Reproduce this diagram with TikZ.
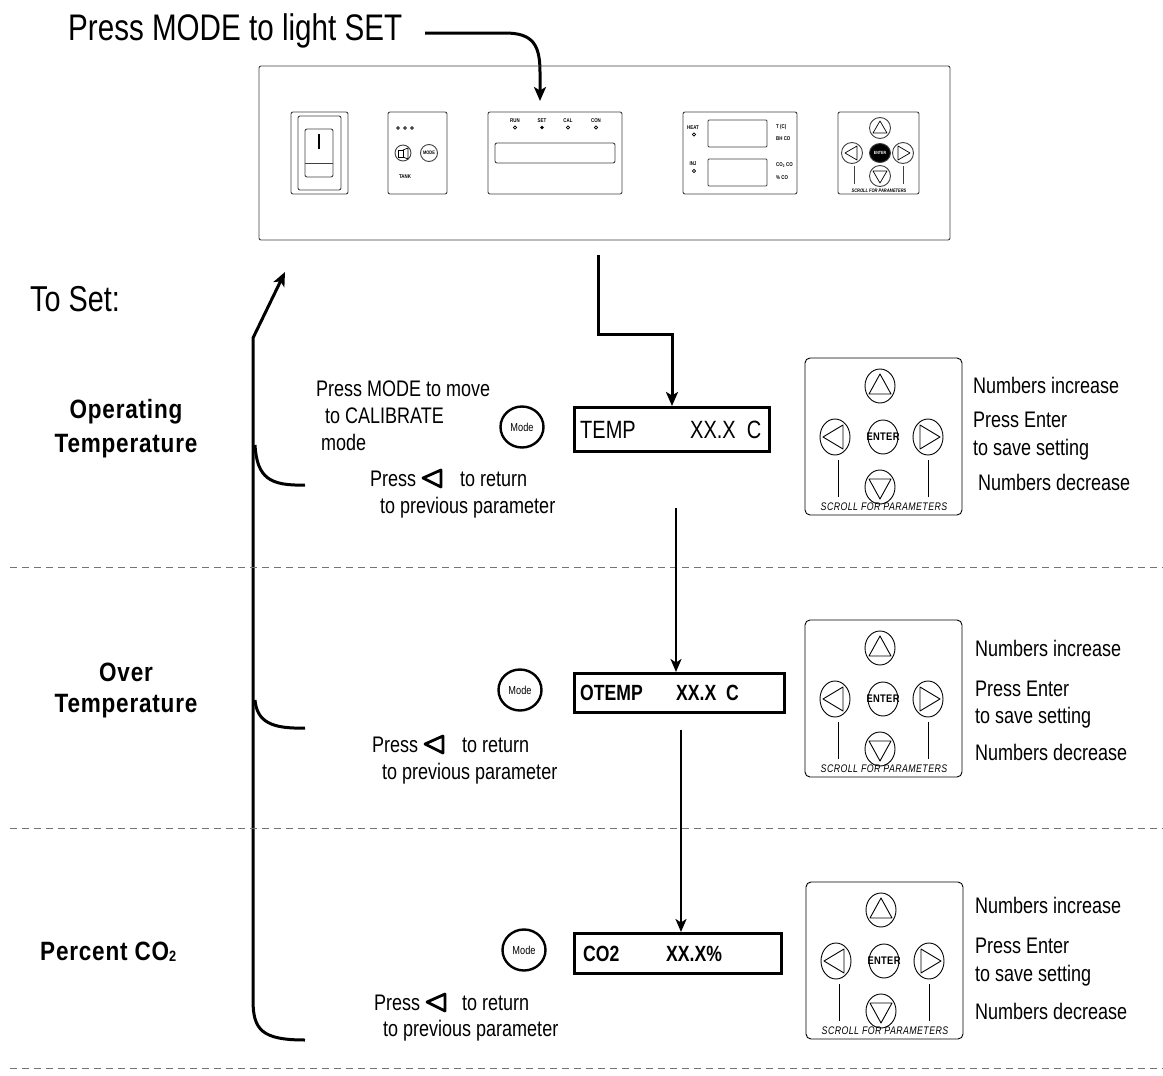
\documentclass[tikz,border=0pt]{standalone}
\usepackage{fontspec}
\setmainfont{Liberation Sans}[FakeStretch=0.8]
\newfontfamily\headfont{Liberation Sans}[FakeStretch=0.85, LetterSpace=3]
\newfontfamily\keyfont{Liberation Sans}[FakeStretch=0.8, LetterSpace=4]
\usetikzlibrary{arrows.meta,shapes.geometric}
\tikzset{
  body/.style={font=\fontsize{22.5}{25}\selectfont, inner sep=0pt, anchor=base west},
  head/.style={font=\headfont\bfseries\fontsize{26.5}{28}\selectfont, inner sep=0pt},
  thinline/.style={draw=black!75, line width=0.9},
  bigarrow/.style={line width=3, -{Stealth[length=14,width=12,inset=3.5]}},
  midarrow/.style={line width=2.2, -{Stealth[length=13,width=11,inset=3.5]}},
  dashsep/.style={draw=black!55, line width=0.9, dash pattern=on 7 off 5},
  dispbox/.style={draw, line width=3, inner sep=0pt, anchor=north west},
  modebtn/.style={draw, line width=2.4, ellipse, minimum width=43, minimum height=41, inner sep=0pt, font=\fontsize{11.5}{12}\selectfont},
  tiny/.style={font=\bfseries\fontsize{5.5}{6}\selectfont, inner sep=0pt},
  keyc/.style={line width=0.9},
  keypad/.pic={
    \draw[keyc, rounded corners=5] (0,0) rectangle (157,157);
    \draw[keyc] (75,28) ellipse [x radius=15, y radius=17];
    \draw[keyc, line join=round] (75,16) -- (64,36) -- (86,36) -- cycle;
    \draw[keyc] (30,79) ellipse [x radius=15, y radius=18];
    \draw[keyc, line join=round] (18,79) -- (38,67) -- (38,91) -- cycle;
    \draw[keyc] (78,79) ellipse [x radius=15, y radius=17];
    \node[font=\headfont\bfseries\fontsize{11}{11}\selectfont, inner sep=0pt] at (78,79) {ENTER};
    \draw[keyc] (123,79) ellipse [x radius=15, y radius=18];
    \draw[keyc, line join=round] (135,79) -- (115,67) -- (115,91) -- cycle;
    \draw[keyc] (75,129) ellipse [x radius=15, y radius=17];
    \draw[keyc, line join=round] (75,141) -- (64,121) -- (86,121) -- cycle;
    \draw[keyc] (33,102) -- (33,139);
    \draw[keyc] (123,102) -- (123,139);
    \node[font=\keyfont\itshape\fontsize{11}{11}\selectfont, inner sep=0pt] at (79,149) {SCROLL FOR PARAMETERS};
  },
  lefttri/.style={line width=2.8, line join=round, fill=white}
}
\begin{document}
\begin{tikzpicture}[x=1pt,y=-1pt]
\useasboundingbox (0,0) rectangle (1163,1076);

% ---------- title ----------
\node[body, font=\fontsize{37}{40}\selectfont] (title) at (68,40) {Press MODE to light SET};
\coordinate (tstart) at (425,33);
\coordinate (ttip) at (540,101);
\draw[bigarrow] (tstart) -- (505,33) .. controls (533,33) and (540,45) .. (540,72) -- (ttip);

% ---------- control panel ----------
\draw[thinline, rounded corners=2] (259,66) rectangle (950,240);
\coordinate (panelout) at (598,255);
% switch
\draw[thinline, rounded corners=2] (291,112) rectangle (348,194);
\draw[thinline, rounded corners=2] (298,116) rectangle (341,190);
\draw[thinline, rounded corners=2] (305,129) rectangle (333,177);
\draw[thinline] (305,163) -- (333,163);
\draw[line width=1.3] (319,134) -- (319,149);
% tank box
\draw[thinline, rounded corners=2] (388,112) rectangle (447,194);
\foreach \xx in {398,405,412} \draw[line width=0.6] (\xx,128) circle [radius=1.4];
\draw[thinline] (403,153) circle [radius=8];
\draw[line width=0.7] (398,150) rectangle (403,157);
\draw[line width=0.7] (403,150) -- (408,148) -- (408,159) -- (403,157);
\draw[thinline] (429,153) circle [radius=8.5];
\node[tiny, font=\bfseries\fontsize{5}{6}\selectfont] at (429,153) {MODE};
\node[tiny] at (405,177) {TANK};
% mode display
\draw[thinline, rounded corners=2] (488,112) rectangle (622,194);
\node[tiny] at (515,121) {RUN};
\node[tiny] at (542,121) {SET};
\node[tiny] at (568,121) {CAL};
\node[tiny] at (596,121) {CON};
\draw[line width=0.6] (515,127.5) circle [radius=1.6];
\fill (542,127.5) circle [radius=1.8];
\draw[line width=0.6] (568,127.5) circle [radius=1.6];
\draw[line width=0.6] (596,127.5) circle [radius=1.6];
\draw[thinline, rounded corners=2] (495,143) rectangle (615,163);
% readout box
\draw[thinline, rounded corners=2] (683,112) rectangle (797,194);
\draw[thinline, rounded corners=1] (708,120) rectangle (767,147);
\draw[thinline, rounded corners=1] (708,159) rectangle (767,186);
\node[tiny] at (693,128) {HEAT};
\draw[line width=0.6] (694,134.5) circle [radius=1.6];
\node[tiny] at (693,164) {INJ};
\draw[line width=0.6] (694,171) circle [radius=1.6];
\node[tiny, anchor=west] at (776,127) {T (C)};
\node[tiny, anchor=west] at (776,139) {BH CO};
\node[tiny, anchor=west] at (776,165) {CO\textsubscript{2} CO};
\node[tiny, anchor=west] at (776,178) {\% CO};
% small keypad
\draw[thinline, rounded corners=2] (838,112) rectangle (919,194);
\draw[thinline] (880,128) circle [radius=10.5];
\draw[line width=0.7, line join=round] (880,121) -- (873,133) -- (887,133) -- cycle;
\draw[thinline] (852,153) circle [radius=10.5];
\draw[line width=0.7, line join=round] (845,153) -- (857,146) -- (857,160) -- cycle;
\draw[thinline, fill=black] (880,153) ellipse [x radius=10.5, y radius=9.5];
\node[tiny, text=white, font=\bfseries\fontsize{4.5}{5}\selectfont] at (880,153) {ENTER};
\draw[thinline] (903,153) circle [radius=10.5];
\draw[line width=0.7, line join=round] (910,153) -- (898,146) -- (898,160) -- cycle;
\draw[thinline] (880,176) circle [radius=10.5];
\draw[line width=0.7, line join=round] (880,183) -- (873,171) -- (887,171) -- cycle;
\draw[thinline] (854,166) -- (854,184);
\draw[thinline] (903,166) -- (903,184);
\node[tiny, font=\bfseries\itshape\fontsize{5}{6}\selectfont] at (879,190.5) {SCROLL FOR PARAMETERS};

% ---------- To Set / left bracket ----------
\node[body, font=\fontsize{36}{40}\selectfont] (toset) at (30,311) {To Set:};
\coordinate (brtop) at (253,338);
\coordinate (brtip) at (285,272);
\coordinate (brbot) at (305,1040);
\draw[bigarrow] (brbot) .. controls (262,1040) and (253,1030) .. (253,1000) -- (brtop) -- (brtip);
\draw[line width=3] (255,445) .. controls (257,478) and (270,486) .. (305,485);
\draw[line width=3] (255,700) .. controls (257,722) and (272,729) .. (305,728);

% ---------- row 1 : operating temperature ----------
\node[head] (h1a) at (126,412) {Operating};
\node[head] (h1b) at (126,446) {Temperature};
\node[body] at (316,396) {Press MODE to move};
\node[body] at (325,423) {to CALIBRATE};
\node[body] at (321,450) {mode};
\node[modebtn] (m1) at (522,427) {Mode};
\node[dispbox, minimum width=195, minimum height=44] (d1) at (573,406) {};
\node[body, font=\fontsize{25}{27}\selectfont] at (580,438) {TEMP};
\node[body, font=\fontsize{25}{27}\selectfont] at (690,438) {XX.X\ \ C};
\node[body] at (370,486) {Press};
\draw[lefttri] (423,478) -- (441,470) -- (441,487) -- cycle;
\node[body] at (460,486) {to return};
\node[body] at (380,513) {to previous parameter};
\pic (k1) at (805,358) {keypad};
\node[body] at (973,393) {Numbers increase};
\node[body] at (973,427) {Press Enter};
\node[body] at (973,455) {to save setting};
\node[body] at (978,490) {Numbers decrease};
\coordinate (c1a) at (598,334);
\coordinate (c1b) at (672,334);
\draw[bigarrow] (panelout) -- (c1a) -- (c1b) -- (d1.north -| c1b);

\draw[dashsep] (10,567) -- (1163,567);

% ---------- row 2 : over temperature ----------
\node[head] (h2a) at (126,672) {Over};
\node[head] (h2b) at (126,706) {Temperature};
\node[modebtn] (m2) at (520,690) {Mode};
\node[dispbox, minimum width=210, minimum height=39] (d2) at (573,672) {};
\node[body, font=\bfseries\fontsize{22}{24}\selectfont] at (580,700) {OTEMP};
\node[body, font=\bfseries\fontsize{22}{24}\selectfont] at (676,700) {XX.X\ \ C};
\node[body] at (372,752) {Press};
\draw[lefttri] (425,744) -- (443,736) -- (443,753) -- cycle;
\node[body] at (462,752) {to return};
\node[body] at (382,779) {to previous parameter};
\pic (k2) at (805,620) {keypad};
\node[body] at (975,656) {Numbers increase};
\node[body] at (975,696) {Press Enter};
\node[body] at (975,723) {to save setting};
\node[body] at (975,760) {Numbers decrease};
\coordinate (c2a) at (676,508);
\draw[midarrow] (c2a) -- (d2.north -| c2a);

\draw[dashsep] (10,828) -- (1163,828);

% ---------- row 3 : percent CO2 ----------
\node[head, anchor=west] (h3) at (40,952) {Percent CO\raisebox{-1pt}{\fontsize{15}{15}\selectfont 2}};
\node[modebtn] (m3) at (524,950) {Mode};
\node[dispbox, minimum width=207, minimum height=40] (d3) at (573,932) {};
\node[body, font=\bfseries\fontsize{22}{24}\selectfont] at (583,961) {CO2};
\node[body, font=\bfseries\fontsize{22}{24}\selectfont] at (666,961) {XX.X\%};
\node[body] at (374,1010) {Press};
\draw[lefttri] (427,1002) -- (445,994) -- (445,1011) -- cycle;
\node[body] at (462,1010) {to return};
\node[body] at (383,1036) {to previous parameter};
\pic (k3) at (806,882) {keypad};
\node[body] at (975,913) {Numbers increase};
\node[body] at (975,953) {Press Enter};
\node[body] at (975,981) {to save setting};
\node[body] at (975,1019) {Numbers decrease};
\coordinate (c3a) at (681,730);
\draw[midarrow] (c3a) -- (d3.north -| c3a);

\draw[dashsep] (10,1068) -- (1163,1068);
\end{tikzpicture}
\end{document}
